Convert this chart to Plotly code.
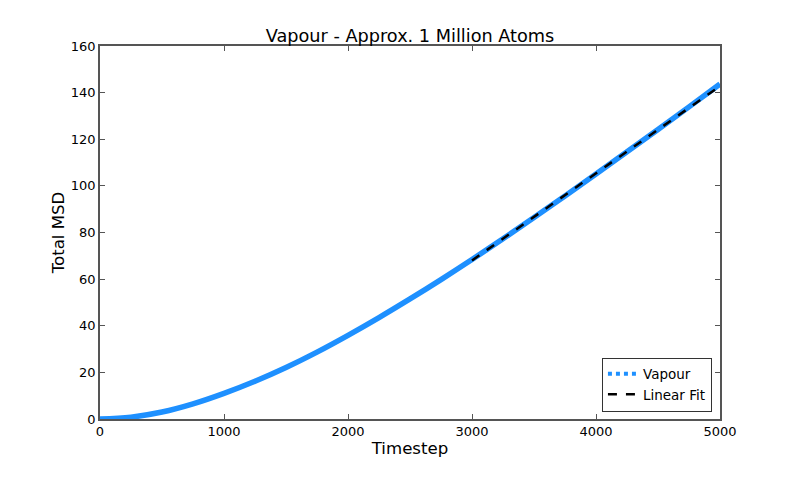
import plotly.graph_objects as go

timestep = [0, 250, 500, 750, 1000, 1250, 1500, 1750, 2000, 2250, 2500,
            2750, 3000, 3250, 3500, 3750, 4000, 4250, 4500, 4750, 5000]
msd = [0.0, 0.8, 3.0, 6.5, 11.0, 16.2, 22.1, 28.7, 35.9, 43.5, 51.5,
       59.8, 68.4, 77.3, 86.4, 95.7, 105.1, 114.6, 124.2, 133.9, 143.7]

fit_x = [3000, 5000]
fit_y = [68.0, 142.8]

font = "DejaVu Sans"
blue = "#1e90ff"

fig = go.Figure()
fig.add_trace(go.Scatter(x=timestep, y=msd, mode="lines", line=dict(color=blue, width=5.5, shape="spline"),
                         showlegend=False, hoverinfo="skip"))
fig.add_trace(go.Scatter(x=fit_x, y=fit_y, mode="lines", line=dict(color="black", width=2.5, dash="dash"),
                         showlegend=False))
fig.add_trace(go.Scatter(x=[None], y=[None], mode="lines", name="Vapour",
                         line=dict(color=blue, width=4, dash="dot")))
fig.add_trace(go.Scatter(x=[None], y=[None], mode="lines", name="Linear Fit",
                         line=dict(color="black", width=2.5, dash="dash")))

axis_common = dict(showgrid=False, zeroline=False, showline=True, linecolor="#555555", linewidth=1.5,
                   mirror="ticks", ticks="inside", ticklen=5, tickcolor="#555555", automargin=False,
                   tickfont=dict(family=font, size=13, color="black"))

fig.update_layout(
    width=800, height=480,
    paper_bgcolor="white", plot_bgcolor="white",
    margin=dict(l=92, r=88, t=38, b=69, autoexpand=False),
    title=dict(text="Vapour - Approx. 1 Million Atoms", x=0.5025, xanchor="center", y=0.942, yanchor="middle",
               font=dict(family=font, size=17.7, color="black"), automargin=False),
    xaxis=dict(range=[0, 5000], tickvals=[0, 1000, 2000, 3000, 4000, 5000],
               title=dict(text="Timestep", font=dict(family=font, size=16.6, color="black"), standoff=4),
               **axis_common),
    yaxis=dict(range=[0, 160], tickvals=[0, 20, 40, 60, 80, 100, 120, 140, 160],
               title=dict(text="Total MSD", font=dict(family=font, size=16.6, color="black"), standoff=2),
               **axis_common),
    legend=dict(x=0.987, y=0.02, xanchor="right", yanchor="bottom", bgcolor="white",
                bordercolor="#333333", borderwidth=1, font=dict(family=font, size=13.5, color="black"),
                tracegroupgap=0, itemwidth=30),
)

fig.write_html("out.html")
